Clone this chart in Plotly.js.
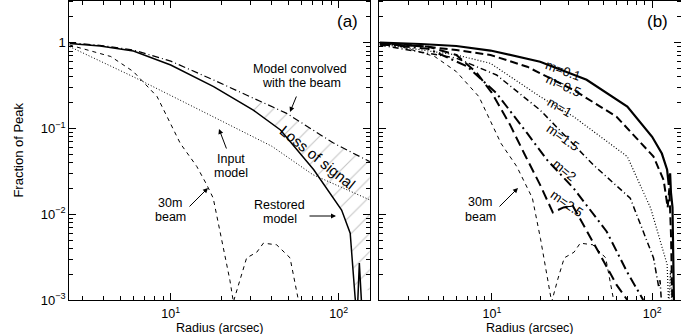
<!DOCTYPE html>
<html>
<head>
<meta charset="utf-8">
<script src="https://cdn.plot.ly/plotly-3.0.1.min.js"></script>
<style>
  body { margin: 0; background: #fff; }
  #graph { width: 681px; height: 334px; }
</style>
</head>
<body>
<div id="graph"></div>
<script>
// panel (a): radius in arcsec, fraction of peak
var beamR = [2, 2.5, 4.4, 6, 8.3, 11.4, 14.3, 16.4, 17.9, 20.1, 22.5, 23.6, 25.9, 28.3, 32.5, 35.6, 42.7, 51.3, 57.5, 60];
var beamF = [0.97, 0.94, 0.69, 0.46, 0.235, 0.067, 0.036, 0.022, 0.0154, 0.0052, 0.0017, 0.00095, 0.0018, 0.0031, 0.0036, 0.0046, 0.0044, 0.0031, 0.001, 0.0007];

var inputR = [2.5, 6, 14.9, 40, 70, 153];
var inputF = [0.90, 0.40, 0.164, 0.062, 0.029, 0.0147];

var convR = [2.5, 4, 6, 10, 18, 30, 49, 92.5, 153];
var convF = [1.0, 0.92, 0.82, 0.61, 0.367, 0.235, 0.15, 0.068, 0.041];

var restR = [2.5, 3.8, 6, 10, 18, 31, 45, 71, 104, 117, 125, 128.5, 132.6, 139];
var restF = [0.98, 0.915, 0.80, 0.55, 0.307, 0.164, 0.096, 0.033, 0.0112, 0.006, 0.0011, 0.0006, 0.0027, 0.0005];

// panel (b): models with different m
var m01R = [2, 3.6, 6, 9.8, 20, 39, 70, 100, 115, 124, 127, 129.5, 131, 134, 137];
var m01F = [1.0, 0.965, 0.915, 0.81, 0.60, 0.37, 0.18, 0.080, 0.051, 0.033, 0.022, 0.03, 0.018, 0.012, 0.0008];

var m05R = [2, 3.6, 6, 9.8, 16.6, 32.4, 60, 102, 118, 125, 128, 131, 134];
var m05F = [0.99, 0.915, 0.82, 0.72, 0.525, 0.28, 0.137, 0.047, 0.025, 0.012, 0.02, 0.006, 0.0008];

var m1R = [2, 6, 9.8, 20, 32.4, 70, 98, 113, 124, 127, 130, 133];
var m1F = [0.965, 0.72, 0.575, 0.235, 0.137, 0.047, 0.0117, 0.0048, 0.0026, 0.0008, 0.0022, 0.0008];

var m15R = [2, 6, 10.7, 20, 43, 73, 102, 110, 112, 115];
var m15F = [0.94, 0.66, 0.42, 0.164, 0.0376, 0.0154, 0.0031, 0.0014, 0.0017, 0.0008];

var m2R = [2, 4, 7, 10.7, 16.6, 22.1, 32.4, 52, 70, 88];
var m2F = [0.96, 0.85, 0.53, 0.257, 0.088, 0.043, 0.020, 0.0063, 0.0021, 0.001];

var m25R = [2, 4, 6, 8, 10, 13, 16, 20, 24, 28, 32, 40, 50, 60, 70];
var m25F = [0.97, 0.9, 0.72, 0.45, 0.26, 0.11, 0.05, 0.022, 0.0105, 0.012, 0.0125, 0.006, 0.0028, 0.0015, 0.001];

var majorX = [10, 100];
var majorXText = ['10<sup>1</sup>', '10<sup>2</sup>'];
var majorY = [1, 0.1, 0.01, 0.001];
var majorYText = ['1', '10<sup>\u22121</sup>', '10<sup>\u22122</sup>', '10<sup>\u22123</sup>'];

var FONT = 'Liberation Sans, Arial, sans-serif';
var W = 681, H = 334;

var minorX = [], minorY = [];
for (var d = 1; d <= 100; d *= 10) {
    for (var k = 2; k <= 9; k++) minorX.push(k * d);
}
for (var e = 0.001; e <= 1; e *= 10) {
    for (var k = 2; k <= 9; k++) minorY.push(k * e);
}

function curve(x, y, xa, ya, width, dash) {
    return {
        x: x, y: y, xaxis: xa, yaxis: ya,
        mode: 'lines',
        line: {color: 'black', width: width, dash: dash},
        hoverinfo: 'skip',
        showlegend: false
    };
}

// hatched "loss of signal" band between convolved and restored curves
var hatchFloor = 0.0013;
var loR = [], loF = [], hiR = [], hiF = [];
for (var i = 0; i < restR.length; i++) {
    if (restR[i] >= 25 && restR[i] <= 125) {
        loR.push(restR[i]);
        loF.push(Math.max(restF[i], hatchFloor));
    }
}
loR.push(convR[convR.length - 1]);
loF.push(hatchFloor);
for (var i = 0; i < convR.length; i++) {
    if (convR[i] >= 25) {
        hiR.push(convR[i]);
        hiF.push(convF[i]);
    }
}

var data = [
    {x: loR, y: loF, xaxis: 'x', yaxis: 'y', mode: 'lines', line: {width: 0}, hoverinfo: 'skip', showlegend: false},
    {x: hiR, y: hiF, xaxis: 'x', yaxis: 'y', mode: 'lines', line: {width: 0}, hoverinfo: 'skip', showlegend: false,
     fill: 'tonexty', fillcolor: 'rgba(0,0,0,0)',
     fillpattern: {shape: '/', fgcolor: '#c4c4c4', bgcolor: 'rgba(0,0,0,0)', size: 13, solidity: 0.08}},
    curve(beamR, beamF, 'x', 'y', 1, '4px,4px'),
    curve(inputR, inputF, 'x', 'y', 1, '1px,2px'),
    curve(convR, convF, 'x', 'y', 1.2, '7px,3px,1px,3px'),
    curve(restR, restF, 'x', 'y', 1.5, 'solid'),

    curve(beamR, beamF, 'x2', 'y2', 1, '4px,4px'),
    curve(m25R, m25F, 'x2', 'y2', 2, '10px,5px'),
    curve(m2R, m2F, 'x2', 'y2', 2, '10px,4px,2px,4px'),
    curve(m15R, m15F, 'x2', 'y2', 1.5, '6px,3px,1px,3px'),
    curve(m1R, m1F, 'x2', 'y2', 1.2, '1px,2px'),
    curve(m05R, m05F, 'x2', 'y2', 2, '8px,4px'),
    curve(m01R, m01F, 'x2', 'y2', 2.2, 'solid')
];

function xAxis(domain, range) {
    return {
        type: 'log', domain: domain, range: range,
        showline: true, linecolor: 'black', linewidth: 1, mirror: 'allticks',
        ticks: 'inside', ticklen: 7, tickwidth: 1, tickcolor: 'black',
        tickmode: 'array', tickvals: majorX, ticktext: majorXText,
        ticklabelstandoff: 2,
        tickfont: {family: FONT, size: 12.5, color: 'black'},
        minor: {tickmode: 'array', tickvals: minorX, ticks: 'inside', ticklen: 4, tickcolor: 'black', tickwidth: 1, showgrid: false},
        showgrid: false, zeroline: false, automargin: false
    };
}

function yAxis(anchor, labels) {
    return {
        type: 'log', domain: [1 - 300 / H, 1 - 0.5 / H], range: [-3, 0.492], anchor: anchor,
        showline: true, linecolor: 'black', linewidth: 1, mirror: 'allticks',
        ticks: 'inside', ticklen: 7, tickwidth: 1, tickcolor: 'black',
        tickmode: 'array', tickvals: majorY, ticktext: majorYText, showticklabels: labels,
        tickfont: {family: FONT, size: 13, color: 'black'},
        minor: {tickmode: 'array', tickvals: minorY, ticks: 'inside', ticklen: 4, tickcolor: 'black', tickwidth: 1, showgrid: false},
        showgrid: false, zeroline: false, automargin: false
    };
}

function note(text, px, py, size, angle) {
    return {
        text: text, xref: 'paper', yref: 'paper', x: px / W, y: 1 - py / H,
        xanchor: 'center', yanchor: 'middle', showarrow: false, textangle: angle || 0,
        font: {family: FONT, size: size || 12.5, color: 'black'}
    };
}

function arrow(tipX, tipY, tailX, tailY) {
    return {
        text: '', xref: 'paper', yref: 'paper', x: tipX / W, y: 1 - tipY / H,
        showarrow: true, ax: tailX - tipX, ay: tailY - tipY,
        arrowhead: 2, arrowsize: 1, arrowwidth: 1, arrowcolor: 'black'
    };
}

var yA = yAxis('x', true);
yA.title = {text: 'Fraction of Peak', font: {family: FONT, size: 13, color: 'black'}, standoff: 14};

var layout = {
    width: W, height: H,
    margin: {l: 0, r: 0, t: 0, b: 0},
    paper_bgcolor: 'white', plot_bgcolor: 'white',
    showlegend: false,
    xaxis: xAxis([69.3 / W, 370 / W], [0.3964, 2.186]),
    yaxis: yA,
    xaxis2: Object.assign(xAxis([379.3 / W, 680.5 / W], [0.2975, 2.177]), {anchor: 'y2'}),
    yaxis2: yAxis('x2', false),
    annotations: [
        note('Radius (arcsec)', 220, 328, 12.5),
        note('Radius (arcsec)', 530, 328, 12.5),

        note('(a)', 347, 22, 17),
        note('Model convolved', 300, 69),
        note('with the beam', 301, 83),
        arrow(290, 112, 297, 95),
        note('Loss of signal', 318, 157, 15, 39),
        note('Input', 231, 159),
        note('model', 231, 173),
        arrow(219, 129, 227, 150),
        note('30m', 170, 202.5),
        note('beam', 170, 216.5),
        arrow(208, 188, 188, 208),
        note('Restored', 279, 204.5),
        note('model', 279.5, 218.5),
        arrow(336, 216, 308, 216),

        note('(b)', 657, 22, 17),
        note('30m', 480, 202),
        note('beam', 480, 216.5),
        arrow(518, 188, 498, 208),
        note('m=0.1', 563, 70, 13, 20),
        note('m=0.5', 563, 86, 13, 24),
        note('m=1', 560, 107, 13, 30),
        note('m=1.5', 563, 137, 13, 35),
        note('m=2', 565, 170, 13, 40),
        note('m=2.5', 567, 203, 13, 35)
    ]
};

Plotly.newPlot('graph', data, layout, {displayModeBar: false, staticPlot: true});
</script>
</body>
</html>
